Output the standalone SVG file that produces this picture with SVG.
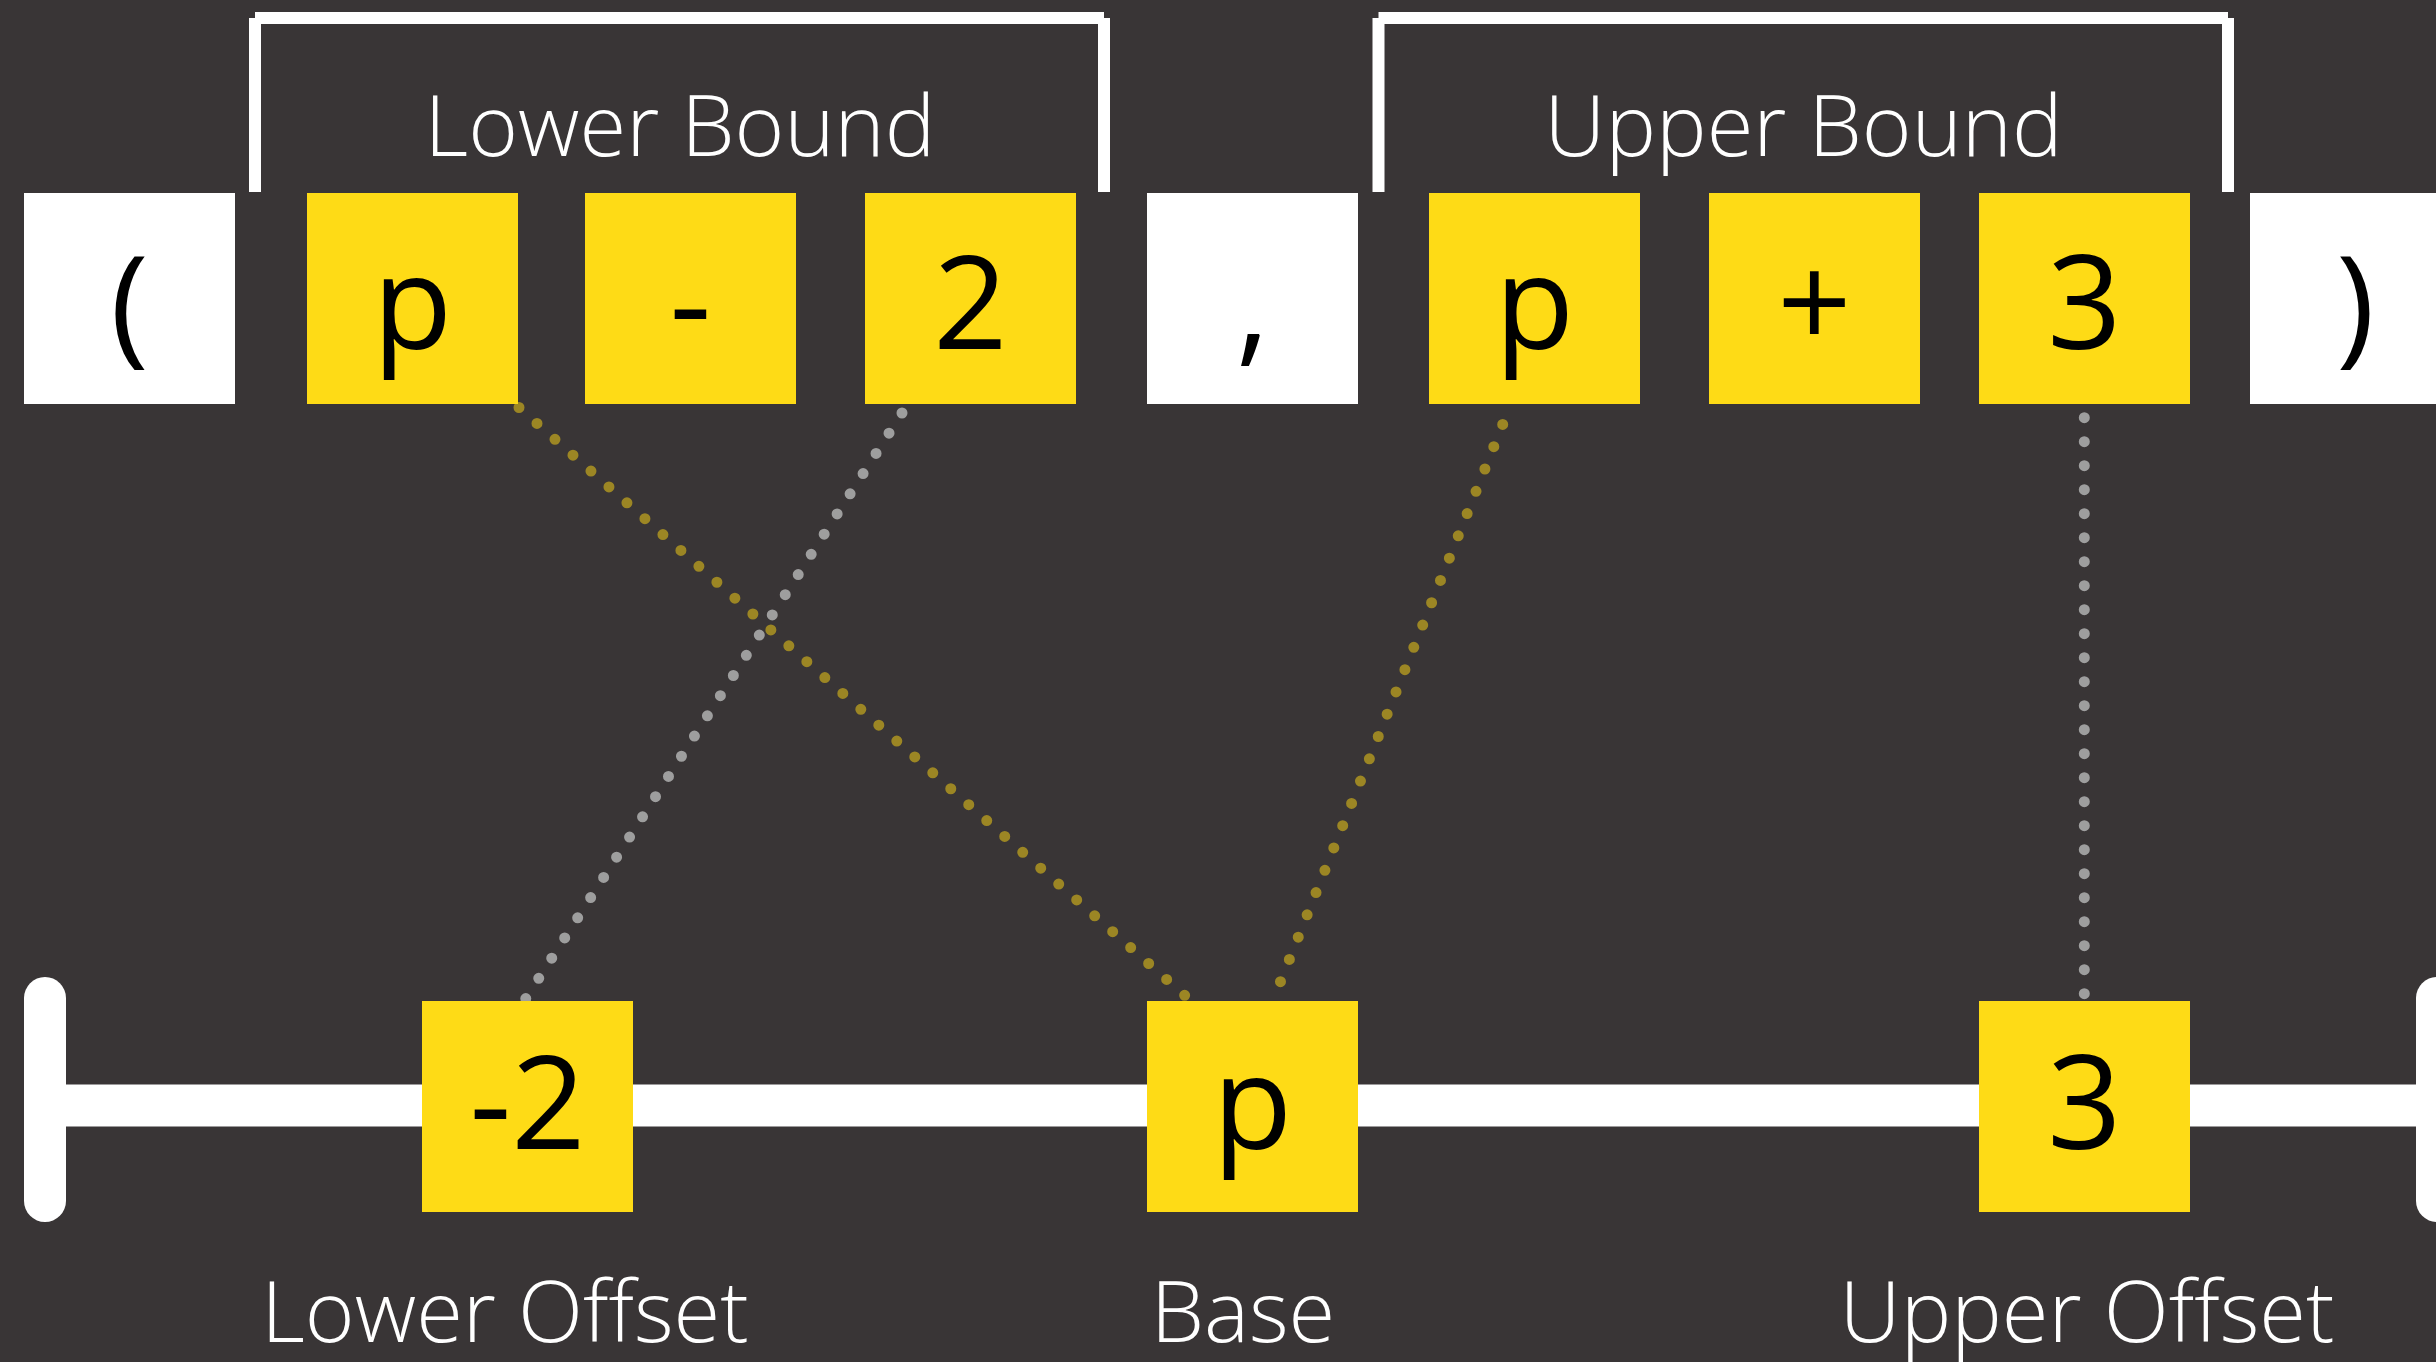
<svg xmlns="http://www.w3.org/2000/svg" width="2436" height="1362" viewBox="0 0 2436 1362">
  <style>
    .tok { font-family: "Open Sans", "Liberation Sans", sans-serif; font-size: 130px; fill: #000000; text-anchor: middle; }
    .lbl { font-family: "Open Sans", "Liberation Sans", sans-serif; font-weight: 300; font-size: 85px; fill: #ffffff; text-anchor: middle; }
    .yb { fill: #FEDB16; }
    .wb { fill: #ffffff; }
    .brk { fill: none; stroke: #ffffff; stroke-width: 12; stroke-linecap: butt; }
    .dg { fill: none; stroke: #9C8624; stroke-width: 11; stroke-linecap: round; stroke-dasharray: 0 24; }
    .dw { fill: none; stroke: #9E9E9E; stroke-width: 11; stroke-linecap: round; stroke-dasharray: 0 24; }
    .axis { fill: none; stroke: #ffffff; stroke-width: 42; }
  </style>
  <rect x="0" y="0" width="2436" height="1362" fill="#393536"/>

  <g id="brackets">
    <g id="lower-bound">
      <path class="brk" d="M255 192 V18 M255 18 H1104 M1104 18 V192"/>
      <text class="lbl" x="680" y="156">Lower Bound</text>
    </g>
    <g id="upper-bound">
      <path class="brk" d="M1378.5 192 V18 M1378.5 18 H2228 M2228 18 V192"/>
      <text class="lbl" x="1803.5" y="156">Upper Bound</text>
    </g>
  </g>

  <g id="axis">
    <line class="axis" x1="45" y1="1105.5" x2="2437" y2="1105.5"/>
    <line class="axis" x1="45" y1="998" x2="45" y2="1201" stroke-linecap="round"/>
    <line class="axis" x1="2437" y1="998" x2="2437" y2="1201" stroke-linecap="round"/>
  </g>

  <g id="connectors">
    <line class="dg" x1="519" y1="407.5" x2="1190" y2="1000"/>
    <line class="dg" x1="1502.7" y1="424.4" x2="1272.4" y2="1002"/>
    <line class="dw" x1="902" y1="413" x2="525.5" y2="999"/>
    <line class="dw" x1="2084.3" y1="417.7" x2="2084.3" y2="995"/>
  </g>

  <g id="tok-lparen"><rect class="wb" x="24" y="193" width="211" height="211"/><text class="tok" x="129.5" y="348.5">(</text></g>
  <g id="tok-p1"><rect class="yb" x="307" y="193" width="211" height="211"/><text class="tok" x="412.5" y="348.5">p</text></g>
  <g id="tok-minus"><rect class="yb" x="585" y="193" width="211" height="211"/><text class="tok" x="690.5" y="348.5">-</text></g>
  <g id="tok-2"><rect class="yb" x="865" y="193" width="211" height="211"/><text class="tok" x="970.5" y="348.5">2</text></g>
  <g id="tok-comma"><rect class="wb" x="1147" y="193" width="211" height="211"/><text class="tok" x="1252.5" y="348.5">,</text></g>
  <g id="tok-p2"><rect class="yb" x="1429" y="193" width="211" height="211"/><text class="tok" x="1534.5" y="348.5">p</text></g>
  <g id="tok-plus"><rect class="yb" x="1709" y="193" width="211" height="211"/><text class="tok" x="1814.5" y="348.5">+</text></g>
  <g id="tok-3"><rect class="yb" x="1979" y="193" width="211" height="211"/><text class="tok" x="2084.5" y="348.5">3</text></g>
  <g id="tok-rparen"><rect class="wb" x="2250" y="193" width="211" height="211"/><text class="tok" x="2355.5" y="348.5">)</text></g>

  <g id="lower-offset"><rect class="yb" x="422" y="1001" width="211" height="211"/><text class="tok" x="527.5" y="1149">-2</text><text class="lbl" x="505" y="1342">Lower Offset</text></g>
  <g id="base"><rect class="yb" x="1147" y="1001" width="211" height="211"/><text class="tok" x="1252.5" y="1149">p</text><text class="lbl" x="1243" y="1342">Base</text></g>
  <g id="upper-offset"><rect class="yb" x="1979" y="1001" width="211" height="211"/><text class="tok" x="2084.5" y="1149">3</text><text class="lbl" x="2087" y="1342">Upper Offset</text></g>
</svg>
